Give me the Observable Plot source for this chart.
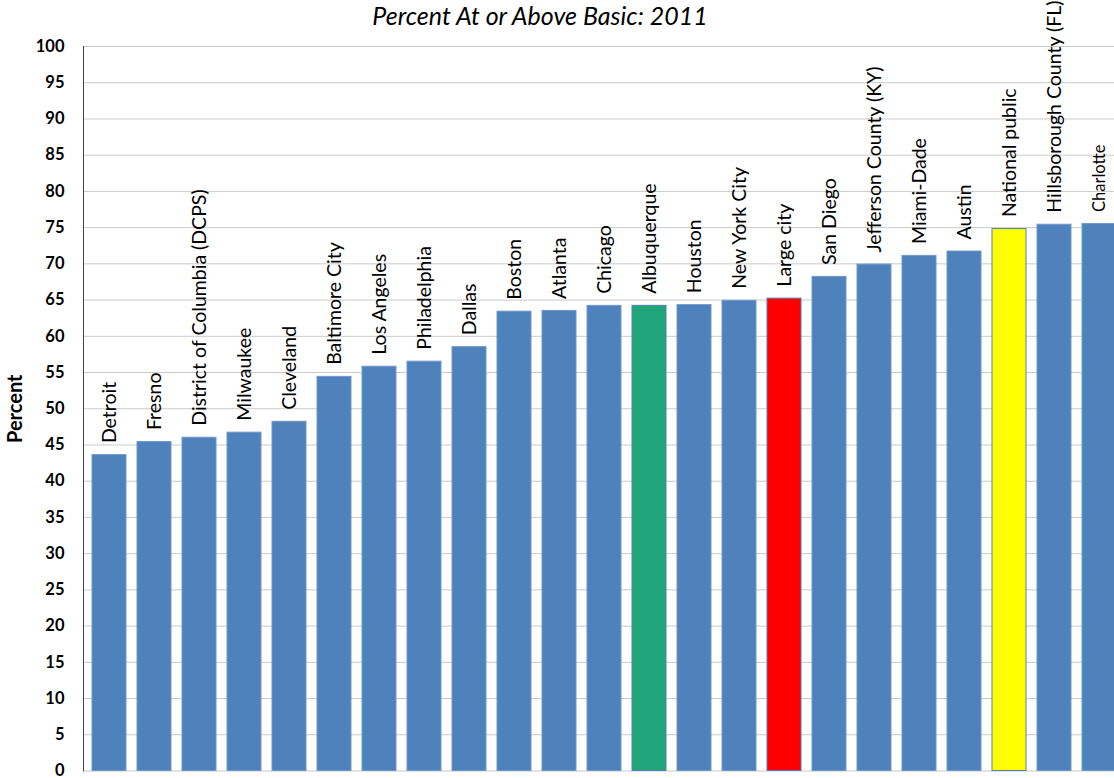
<!DOCTYPE html>
<html>
<head>
<meta charset="utf-8">
<script src="https://cdn.jsdelivr.net/npm/d3@7"></script>
<script src="https://cdn.jsdelivr.net/npm/@observablehq/plot@0.6"></script>
<style>
  html, body { margin: 0; padding: 0; background: #fff; overflow: hidden; }
  #title { position: relative; z-index: 0; width: 1080px; height: 36px; line-height: 38px; text-align: center;
           font: italic 25px Lato, "Open Sans", sans-serif; color: #000; }
  #chart { position: relative; z-index: 1; }
  #chart svg { max-width: none; overflow: visible; }
</style>
</head>
<body>
<div id="title">Percent At or Above Basic: 2011</div>
<div id="chart"></div>
<script>
// Districts, ordered from lowest to highest share at or above Basic
const districts = [
  "Detroit", "Fresno", "District of Columbia (DCPS)", "Milwaukee", "Cleveland",
  "Baltimore City", "Los Angeles", "Philadelphia", "Dallas", "Boston", "Atlanta",
  "Chicago", "Albuquerque", "Houston", "New York City", "Large city", "San Diego",
  "Jefferson County (KY)", "Miami-Dade", "Austin", "National public",
  "Hillsborough County (FL)", "Charlotte"
];
const percents = [
  43.6, 45.4, 46.0, 46.7, 48.2,
  54.4, 55.8, 56.5, 58.5, 63.4, 63.5,
  64.2, 64.2, 64.3, 64.9, 65.2, 68.2,
  69.9, 71.1, 71.7, 74.8,
  75.4, 75.5
];
const yTicks = [0, 5, 10, 15, 20, 25, 30, 35, 40, 45, 50, 55, 60, 65, 70, 75, 80, 85, 90, 95, 100];

const rows = districts.map((name, i) => ({name, value: percents[i]}));

// Highlighted bars: the home district and the two comparison groups
const highlight = new Map([
  ["Albuquerque", "#21A57B"],
  ["Large city", "#FF0000"],
  ["National public", "#FFFF00"]
]);
const baseBlue = "#4F81BD";

const chart = Plot.plot({
  width: 1114,
  height: 742,
  marginTop: 10,
  marginBottom: 7.5,
  marginLeft: 83,
  marginRight: -11,
  style: {fontFamily: "Lato, 'Open Sans', sans-serif", color: "#000", background: "transparent"},
  x: {domain: districts, paddingInner: 0.25, paddingOuter: 0.13, axis: null},
  y: {domain: [0, 100], axis: null},
  marks: [
    Plot.gridY(yTicks, {stroke: "#CACACA", strokeOpacity: 1, strokeWidth: 1}),
    Plot.axisY(yTicks, {tickSize: 0, tickPadding: 19, fontWeight: "bold", fontSize: 16.5, label: null}),
    Plot.barY(rows, {
      x: "name",
      y: "value",
      fill: d => highlight.get(d.name) ?? baseBlue,
      stroke: d => highlight.has(d.name) ? "#4F81BD" : "#6F98CB",
      strokeWidth: 1
    }),
    Plot.frame({anchor: "left", stroke: "#444"}),
    Plot.text(rows, {
      x: "name",
      y: "value",
      text: "name",
      rotate: -90,
      textAnchor: "start",
      lineAnchor: "middle",
      dy: -12,
      fontSize: d => d.name === "Charlotte" ? 16.5 : 19.5,
      fill: "#000"
    }),
    Plot.text(["Percent"], {
      frameAnchor: "left",
      dx: -68,
      rotate: -90,
      textAnchor: "middle",
      lineAnchor: "middle",
      fontWeight: "bold",
      fontSize: 20,
      fill: "#000"
    })
  ]
});
document.getElementById("chart").append(chart);
</script>
</body>
</html>
